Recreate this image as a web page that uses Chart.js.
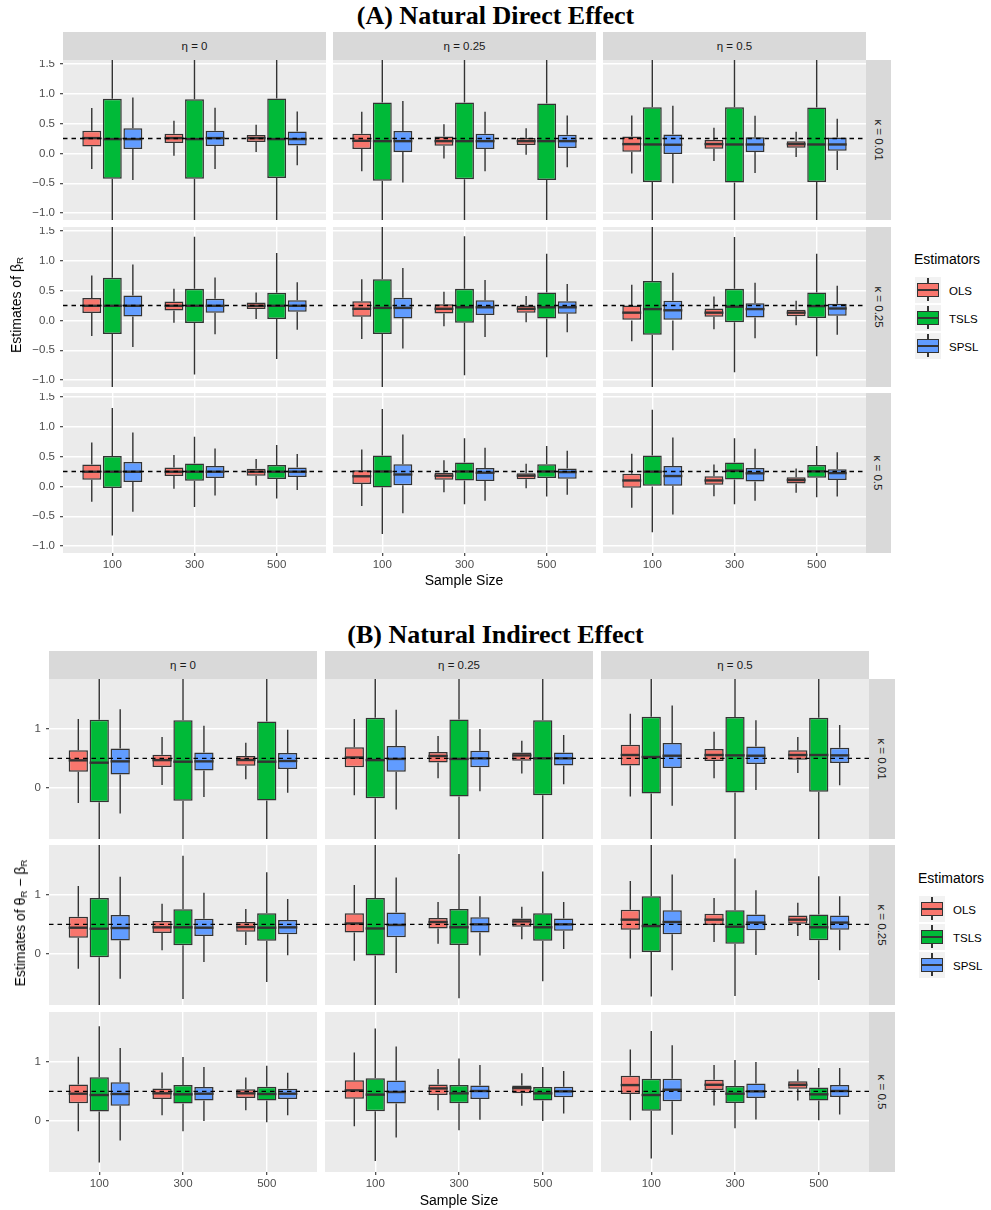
<!DOCTYPE html>
<html>
<head>
<meta charset="utf-8">
<script src="https://cdn.jsdelivr.net/npm/chart.js@4.4.1/dist/chart.umd.min.js"></script>
<style>
  body { margin: 0; background: #fff; font-family: "Liberation Sans", Arial, sans-serif; }
  #page { position: relative; width: 991px; height: 1210px; overflow: hidden; }
  #page div, #page canvas { position: absolute; }
  .title { left: 0; width: 991px; text-align: center; font-family: "Liberation Serif", "Times New Roman", serif; font-weight: bold; font-size: 26px; line-height: 30px; color: #000; }
  .strip { background: #D9D9D9; color: #1A1A1A; font-size: 11.5px; display: flex; align-items: center; justify-content: center; }
  .vstrip span { display: block; transform: rotate(90deg); white-space: nowrap; }
  .ytitle { transform: translate(-50%, -50%) rotate(-90deg); white-space: nowrap; font-size: 14px; color: #000; }
  .xtitle { transform: translateX(-50%); white-space: nowrap; font-size: 14px; line-height: 16px; color: #000; }
  sub { font-size: 70%; vertical-align: -0.25em; line-height: 0; }
  .legtitle { font-size: 14px; line-height: 16px; color: #000; white-space: nowrap; }
  .leglab { font-size: 11.5px; line-height: 14px; color: #000; transform: translateY(-50%); }
  .key { width: 26px; height: 26px; background: #F2F2F2; }
  .key .kbox { left: 2px; top: 6px; width: 22px; height: 14px; box-sizing: border-box; border: 1.5px solid #333; }
  .key .wh { left: 12.3px; width: 1.4px; background: #333; }
  .key .kmed { left: 2px; top: 12px; width: 22px; height: 2px; background: #333; }
</style>
</head>
<body>
<div id="page"></div>
<script>
// categories and facet labels
const sampleSizes = ['100', '300', '500'];
const estimators = ['OLS', 'TSLS', 'SPSL'];
const etaLabels = ['η = 0', 'η = 0.25', 'η = 0.5'];
const kappaLabels = ['κ = 0.01', 'κ = 0.25', 'κ = 0.5'];

// y tick positions
const ndeMajorTicks = [-1.0, -0.5, 0, 0.5, 1.0, 1.5];
const ndeMinorTicks = [-0.75, -0.25, 0.25, 0.75, 1.25];
const nieMajorTicks = [0, 1];
const nieMinorTicks = [-0.5, 0.5, 1.5];

// true values (dashed lines)
const ndeTrue = 0.25;
const nieTrue = 0.5;

// box stats [lower whisker, q1, median, q3, upper whisker]
// indexed [kappa row][eta column][sample size]
const ndeOLS = [
  [ [[-0.26, 0.117, 0.257, 0.38, 0.76], [-0.04, 0.173, 0.257, 0.33, 0.547], [0.022, 0.19, 0.257, 0.307, 0.48]],
    [[-0.30, 0.073, 0.212, 0.33, 0.70], [-0.084, 0.128, 0.206, 0.285, 0.49], [-0.022, 0.14, 0.206, 0.257, 0.424]],
    [[-0.335, 0.028, 0.156, 0.285, 0.636], [-0.128, 0.078, 0.156, 0.223, 0.43], [-0.06, 0.095, 0.156, 0.206, 0.363]] ],
  [ [[-0.262, 0.123, 0.245, 0.374, 0.753], [-0.04, 0.167, 0.245, 0.318, 0.53], [0.022, 0.19, 0.245, 0.301, 0.468]],
    [[-0.31, 0.06, 0.195, 0.32, 0.69], [-0.10, 0.115, 0.195, 0.27, 0.48], [-0.03, 0.13, 0.195, 0.25, 0.41]],
    [[-0.35, 0.0, 0.13, 0.25, 0.60], [-0.15, 0.06, 0.13, 0.20, 0.40], [-0.08, 0.07, 0.13, 0.18, 0.33]] ],
  [ [[-0.257, 0.112, 0.246, 0.369, 0.738], [-0.039, 0.173, 0.246, 0.319, 0.526], [0.017, 0.179, 0.246, 0.296, 0.459]],
    [[-0.33, 0.04, 0.17, 0.27, 0.62], [-0.10, 0.11, 0.18, 0.23, 0.44], [-0.03, 0.12, 0.18, 0.22, 0.38]],
    [[-0.36, -0.022, 0.10, 0.214, 0.55], [-0.163, 0.028, 0.10, 0.169, 0.366], [-0.107, 0.05, 0.107, 0.152, 0.30]] ]
];
const ndeTSLS = [
  [ [[-1.6, -0.424, 0.24, 0.915, 2.0], [-1.6, -0.424, 0.24, 0.91, 2.0], [-1.6, -0.413, 0.24, 0.92, 2.0]],
    [[-1.6, -0.458, 0.206, 0.854, 2.0], [-1.6, -0.435, 0.206, 0.854, 2.0], [-1.6, -0.446, 0.206, 0.837, 2.0]],
    [[-1.6, -0.48, 0.15, 0.776, 2.0], [-1.6, -0.49, 0.15, 0.776, 2.0], [-1.6, -0.48, 0.15, 0.77, 2.0]] ],
  [ [[-1.6, -0.229, 0.245, 0.714, 2.0], [-0.909, -0.045, 0.245, 0.53, 1.405], [-0.647, 0.022, 0.245, 0.463, 1.132]],
    [[-1.6, -0.23, 0.21, 0.69, 2.0], [-0.92, -0.04, 0.22, 0.53, 1.41], [-0.62, 0.03, 0.22, 0.47, 1.12]],
    [[-1.6, -0.24, 0.19, 0.66, 2.0], [-0.87, -0.03, 0.23, 0.53, 1.40], [-0.60, 0.04, 0.24, 0.47, 1.12]] ],
  [ [[-0.822, -0.028, 0.246, 0.509, 1.314], [-0.347, 0.095, 0.246, 0.386, 0.833], [-0.201, 0.123, 0.246, 0.358, 0.694]],
    [[-0.80, -0.02, 0.25, 0.52, 1.30], [-0.30, 0.10, 0.25, 0.40, 0.81], [-0.17, 0.14, 0.25, 0.37, 0.68]],
    [[-0.77, 0.0, 0.247, 0.517, 1.287], [-0.30, 0.118, 0.264, 0.40, 0.81], [-0.18, 0.146, 0.253, 0.36, 0.68]] ]
];
const ndeSPSL = [
  [ [[-0.446, 0.073, 0.24, 0.424, 0.94], [-0.26, 0.123, 0.257, 0.38, 0.765], [-0.20, 0.134, 0.24, 0.368, 0.703]],
    [[-0.486, 0.022, 0.206, 0.374, 0.88], [-0.30, 0.073, 0.206, 0.33, 0.70], [-0.234, 0.09, 0.206, 0.312, 0.636]],
    [[-0.502, -0.011, 0.145, 0.318, 0.80], [-0.33, 0.022, 0.15, 0.273, 0.63], [-0.28, 0.045, 0.15, 0.268, 0.58]] ],
  [ [[-0.446, 0.067, 0.245, 0.418, 0.937], [-0.234, 0.128, 0.245, 0.363, 0.72], [-0.156, 0.145, 0.245, 0.34, 0.641]],
    [[-0.47, 0.03, 0.21, 0.38, 0.88], [-0.28, 0.09, 0.22, 0.34, 0.68], [-0.20, 0.11, 0.22, 0.32, 0.61]],
    [[-0.50, 0.0, 0.17, 0.33, 0.80], [-0.30, 0.05, 0.19, 0.29, 0.63], [-0.24, 0.08, 0.20, 0.28, 0.58]] ],
  [ [[-0.425, 0.073, 0.246, 0.408, 0.906], [-0.151, 0.14, 0.246, 0.341, 0.638], [-0.062, 0.157, 0.246, 0.319, 0.542]],
    [[-0.45, 0.02, 0.20, 0.37, 0.87], [-0.24, 0.09, 0.23, 0.31, 0.65], [-0.14, 0.13, 0.24, 0.30, 0.60]],
    [[-0.47, 0.01, 0.174, 0.343, 0.82], [-0.24, 0.084, 0.22, 0.31, 0.63], [-0.17, 0.107, 0.224, 0.29, 0.573]] ]
];

const nieOLS = [
  [ [[-0.26, 0.273, 0.466, 0.636, 1.17], [0.045, 0.352, 0.47, 0.5625, 0.864], [0.142, 0.375, 0.472, 0.54, 0.767]],
    [[-0.13, 0.35, 0.515, 0.69, 1.17], [0.16, 0.43, 0.54, 0.61, 0.88], [0.24, 0.46, 0.55, 0.60, 0.80]],
    [[-0.148, 0.38, 0.557, 0.733, 1.26], [0.159, 0.455, 0.557, 0.659, 0.955], [0.25, 0.477, 0.557, 0.636, 0.864]] ],
  [ [[-0.256, 0.273, 0.443, 0.63, 1.153], [0.057, 0.352, 0.449, 0.557, 0.852], [0.148, 0.375, 0.4545, 0.54, 0.761]],
    [[-0.12, 0.36, 0.515, 0.69, 1.17], [0.17, 0.43, 0.54, 0.61, 0.88], [0.245, 0.46, 0.55, 0.60, 0.80]],
    [[-0.08, 0.41, 0.58, 0.75, 1.24], [0.20, 0.49, 0.58, 0.68, 0.95], [0.30, 0.51, 0.58, 0.65, 0.87]] ],
  [ [[-0.18, 0.298, 0.46, 0.618, 1.09], [0.095, 0.37, 0.466, 0.55, 0.82], [0.18, 0.388, 0.466, 0.534, 0.736]],
    [[-0.096, 0.376, 0.517, 0.69, 1.163], [0.18, 0.438, 0.55, 0.618, 0.882], [0.253, 0.466, 0.556, 0.60, 0.809]],
    [[0.006, 0.455, 0.607, 0.764, 1.213], [0.258, 0.522, 0.612, 0.697, 0.949], [0.343, 0.545, 0.612, 0.674, 0.871]] ]
];
const nieTSLS = [
  [ [[-1.2, -0.25, 0.426, 1.159, 2.3], [-1.2, -0.222, 0.443, 1.148, 2.3], [-1.2, -0.216, 0.443, 1.13, 2.3]],
    [[-1.2, -0.18, 0.47, 1.19, 2.3], [-1.2, -0.15, 0.49, 1.16, 2.3], [-1.2, -0.13, 0.50, 1.15, 2.3]],
    [[-1.2, -0.10, 0.523, 1.21, 2.3], [-1.2, -0.08, 0.551, 1.205, 2.3], [-1.2, -0.068, 0.557, 1.193, 2.3]] ],
  [ [[-1.2, -0.0625, 0.426, 0.949, 2.3], [-0.773, 0.142, 0.449, 0.756, 1.67], [-0.483, 0.222, 0.443, 0.6875, 1.386]],
    [[-1.2, -0.03, 0.43, 0.95, 2.3], [-0.76, 0.15, 0.45, 0.76, 1.70], [-0.47, 0.22, 0.45, 0.69, 1.40]],
    [[-0.73, 0.03, 0.47, 0.98, 2.3], [-0.72, 0.17, 0.46, 0.74, 1.62], [-0.45, 0.23, 0.45, 0.67, 1.32]] ],
  [ [[-0.713, 0.157, 0.438, 0.742, 1.61], [-0.18, 0.292, 0.449, 0.607, 1.084], [-0.028, 0.343, 0.455, 0.579, 0.938]],
    [[-0.685, 0.163, 0.444, 0.725, 1.573], [-0.163, 0.298, 0.466, 0.607, 1.06], [-0.006, 0.343, 0.466, 0.573, 0.916]],
    [[-0.646, 0.169, 0.438, 0.713, 1.528], [-0.129, 0.303, 0.46, 0.59, 1.034], [0.006, 0.343, 0.449, 0.567, 0.899]] ]
];
const nieSPSL = [
  [ [[-0.4375, 0.227, 0.449, 0.67, 1.335], [-0.159, 0.295, 0.449, 0.60, 1.057], [-0.085, 0.318, 0.455, 0.59, 0.989]],
    [[-0.37, 0.27, 0.49, 0.71, 1.33], [-0.06, 0.35, 0.50, 0.63, 1.0], [0.06, 0.38, 0.50, 0.60, 0.90]],
    [[-0.307, 0.335, 0.545, 0.761, 1.40], [-0.04, 0.403, 0.545, 0.70, 1.148], [0.04, 0.42, 0.551, 0.682, 1.068]] ],
  [ [[-0.426, 0.227, 0.4375, 0.659, 1.3125], [-0.142, 0.30, 0.443, 0.597, 1.04], [-0.028, 0.33, 0.449, 0.574, 0.93]],
    [[-0.33, 0.28, 0.49, 0.70, 1.30], [-0.03, 0.36, 0.50, 0.62, 0.98], [0.08, 0.39, 0.50, 0.60, 0.88]],
    [[-0.28, 0.33, 0.54, 0.74, 1.35], [-0.02, 0.40, 0.53, 0.67, 1.08], [0.06, 0.41, 0.53, 0.65, 0.98]] ],
  [ [[-0.337, 0.253, 0.455, 0.657, 1.24], [-0.006, 0.343, 0.46, 0.573, 0.916], [0.095, 0.37, 0.46, 0.545, 0.815]],
    [[-0.287, 0.292, 0.489, 0.685, 1.264], [0.017, 0.37, 0.506, 0.60, 0.949], [0.124, 0.399, 0.50, 0.579, 0.848]],
    [[-0.24, 0.331, 0.528, 0.713, 1.287], [0.022, 0.388, 0.50, 0.635, 1.0], [0.107, 0.404, 0.506, 0.607, 0.899]] ]
];

const estimatorColors = ['#F8766D', '#00BA38', '#619CFF'];
const AXW = 40, AXH = 22;

Chart.defaults.font.family = '"Liberation Sans", Arial, sans-serif';

const sections = [
  { title: '(A) Natural Direct Effect', titleTop: 1,
    cols: [63, 333, 603], rows: [60, 227, 393], panelW: 263, panelH: 160,
    stripTop: 32, stripH: 28, sideW: 25,
    yMin: -1.117, yMax: 1.567, majors: ndeMajorTicks, minors: ndeMinorTicks, ref: ndeTrue,
    stats: [ndeOLS, ndeTSLS, ndeSPSL],
    fmt: v => v.toFixed(1).replace('-', '\u2212'),
    yTitle: 'Estimates of \u03b2<sub>R</sub>', yTitleX: 16, yTitleY: 305,
    xTitleX: 464, xTitleTop: 572, legX: 914, legY: 251 },
  { title: '(B) Natural Indirect Effect', titleTop: 620,
    cols: [49, 325, 601], rows: [679, 845, 1012], panelW: 268, panelH: 160,
    stripTop: 651, stripH: 28, sideW: 26,
    yMin: -0.874, yMax: 1.852, majors: nieMajorTicks, minors: nieMinorTicks, ref: nieTrue,
    stats: [nieOLS, nieTSLS, nieSPSL],
    fmt: v => String(v),
    yTitle: 'Estimates of \u03b8<sub>R</sub> \u2212 \u03b2<sub>R</sub>', yTitleX: 20, yTitleY: 923,
    xTitleX: 459, xTitleTop: 1192, legX: 918, legY: 870 }
];

const page = document.getElementById('page');
function addDiv(cls, style, html) {
  const d = document.createElement('div');
  d.className = cls;
  Object.assign(d.style, style);
  if (html) d.innerHTML = html;
  page.appendChild(d);
  return d;
}

function boxParts(refValue) {
  return {
    id: 'boxParts',
    beforeDraw(chart) {
      const { ctx, chartArea: a } = chart;
      ctx.save();
      ctx.fillStyle = '#EBEBEB';
      ctx.fillRect(a.left, a.top, a.width, a.height);
      ctx.restore();
    },
    beforeDatasetsDraw(chart) {
      // whiskers behind the boxes
      const { ctx, chartArea: a } = chart;
      const y = chart.scales.y;
      ctx.save();
      ctx.beginPath();
      ctx.rect(a.left, a.top, a.width, a.height);
      ctx.clip();
      ctx.strokeStyle = '#333333';
      ctx.lineWidth = 1.4;
      chart.data.datasets.forEach((ds, k) => {
        chart.getDatasetMeta(k).data.forEach((bar, i) => {
          const s = ds.data[i].stats;
          ctx.beginPath();
          ctx.moveTo(bar.x, y.getPixelForValue(s[0]));
          ctx.lineTo(bar.x, y.getPixelForValue(s[1]));
          ctx.moveTo(bar.x, y.getPixelForValue(s[3]));
          ctx.lineTo(bar.x, y.getPixelForValue(s[4]));
          ctx.stroke();
        });
      });
      ctx.restore();
    },
    afterDatasetsDraw(chart) {
      const { ctx, chartArea: a } = chart;
      const y = chart.scales.y;
      ctx.save();
      ctx.strokeStyle = '#333333';
      ctx.lineWidth = 2.4;
      chart.data.datasets.forEach((ds, k) => {
        chart.getDatasetMeta(k).data.forEach((bar, i) => {
          const m = y.getPixelForValue(ds.data[i].stats[2]);
          ctx.beginPath();
          ctx.moveTo(bar.x - bar.width / 2, m);
          ctx.lineTo(bar.x + bar.width / 2, m);
          ctx.stroke();
        });
      });
      // true value
      const r = y.getPixelForValue(refValue);
      ctx.strokeStyle = '#000000';
      ctx.lineWidth = 1.4;
      ctx.setLineDash([4.5, 4]);
      ctx.beginPath();
      ctx.moveTo(a.left, r);
      ctx.lineTo(a.right, r);
      ctx.stroke();
      ctx.restore();
    }
  };
}

function makePanel(sec, r, c) {
  const canvas = document.createElement('canvas');
  canvas.width = sec.panelW + AXW;
  canvas.height = sec.panelH + AXH;
  canvas.style.left = (sec.cols[c] - AXW) + 'px';
  canvas.style.top = sec.rows[r] + 'px';
  page.appendChild(canvas);

  const showY = c === 0, showX = r === 2;
  const majors = sec.majors;
  const allTicks = majors.concat(sec.minors).sort((p, q) => p - q);
  const isMajor = v => majors.includes(v);

  new Chart(canvas, {
    type: 'bar',
    data: {
      datasets: estimators.map((name, k) => ({
        label: name,
        data: sec.stats[k][r][c].map((s, i) => ({ x: i + 1, y: [s[1], s[3]], stats: s })),
        backgroundColor: estimatorColors[k],
        borderColor: '#333333',
        borderWidth: 1.5,
        borderSkipped: false,
        categoryPercentage: 0.75,
        barPercentage: 0.92
      }))
    },
    options: {
      responsive: false,
      animation: false,
      devicePixelRatio: 1,
      layout: { padding: 0 },
      events: [],
      plugins: { legend: { display: false }, tooltip: { enabled: false } },
      scales: {
        x: {
          type: 'linear', min: 0.4, max: 3.6, bounds: 'data', offset: false,
          afterBuildTicks: s => { s.ticks = sampleSizes.map((_, i) => ({ value: i + 1 })); },
          afterFit: s => { s.height = AXH; s.paddingLeft = 0; s.paddingRight = 0; },
          ticks: { display: showX, autoSkip: false, maxRotation: 0, padding: 2,
                   color: '#4D4D4D', font: { size: 11.5 },
                   callback: v => sampleSizes[Math.round(v) - 1] },
          grid: { offset: false, color: '#FFFFFF', lineWidth: 1.4, tickLength: 3, tickWidth: 1.1,
                  tickColor: showX ? '#333333' : 'rgba(0,0,0,0)' },
          border: { display: false }
        },
        y: {
          type: 'linear', min: sec.yMin, max: sec.yMax, bounds: 'data',
          afterBuildTicks: s => { s.ticks = allTicks.map(v => ({ value: v })); },
          afterFit: s => { s.width = AXW; s.paddingTop = 0; s.paddingBottom = 0; },
          ticks: { display: showY, autoSkip: false, padding: 5,
                   color: '#4D4D4D', font: { size: 11.5 },
                   callback: v => isMajor(v) ? sec.fmt(v) : null },
          grid: { color: '#FFFFFF',
                  lineWidth: ctx => isMajor(ctx.tick.value) ? 1.4 : 0.7,
                  tickLength: 3, tickWidth: 1.1,
                  tickColor: ctx => (showY && isMajor(ctx.tick.value)) ? '#333333' : 'rgba(0,0,0,0)' },
          border: { display: false }
        }
      }
    },
    plugins: [boxParts(sec.ref)]
  });
}

function addLegend(x, y) {
  addDiv('legtitle', { left: x + 'px', top: y + 'px' }, 'Estimators');
  estimators.forEach((name, k) => {
    const ky = y + 25.5 + k * 28.2;
    const key = addDiv('key', { left: (x + 1) + 'px', top: ky + 'px' });
    key.innerHTML =
      '<div class="wh" style="top:1.5px;height:5px"></div>' +
      '<div class="wh" style="top:19.5px;height:5px"></div>' +
      '<div class="kbox" style="background:' + estimatorColors[k] + '"></div>' +
      '<div class="kmed"></div>';
    addDiv('leglab', { left: (x + 35) + 'px', top: (ky + 14) + 'px' }, name);
  });
}

sections.forEach(sec => {
  addDiv('title', { top: sec.titleTop + 'px' }, sec.title);
  sec.cols.forEach((cx, c) => {
    addDiv('strip', { left: cx + 'px', top: sec.stripTop + 'px', width: sec.panelW + 'px', height: sec.stripH + 'px' }, etaLabels[c]);
  });
  sec.rows.forEach((ry, r) => {
    addDiv('strip vstrip', { left: (sec.cols[2] + sec.panelW) + 'px', top: ry + 'px', width: sec.sideW + 'px', height: sec.panelH + 'px' },
      '<span>' + kappaLabels[r] + '</span>');
  });
  for (let r = 0; r < 3; r++) {
    for (let c = 0; c < 3; c++) makePanel(sec, r, c);
  }
  addDiv('ytitle', { left: sec.yTitleX + 'px', top: sec.yTitleY + 'px' }, sec.yTitle);
  addDiv('xtitle', { left: sec.xTitleX + 'px', top: sec.xTitleTop + 'px' }, 'Sample Size');
  addLegend(sec.legX, sec.legY);
});
</script>
</body>
</html>
